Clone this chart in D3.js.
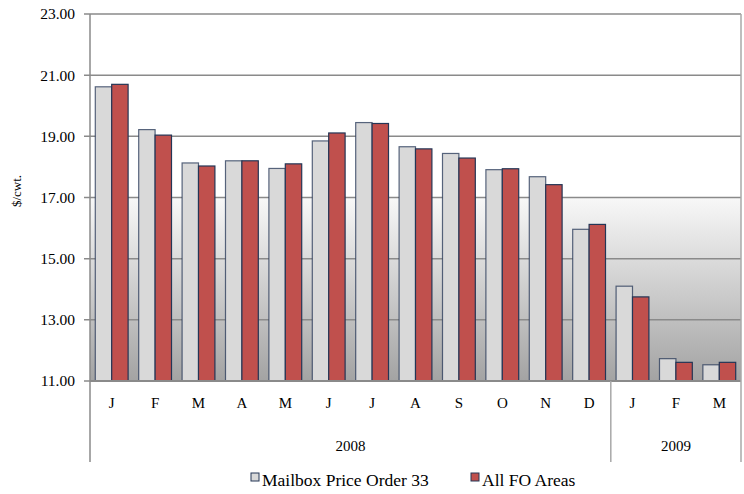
<!DOCTYPE html>
<html><head><meta charset="utf-8">
<script src="https://cdn.jsdelivr.net/npm/d3@7"></script>
<style>body{margin:0;background:#fff}svg{display:block}svg text{font-family:"Liberation Serif","DejaVu Serif",serif}</style>
</head><body>
<script>
const months = ["J","F","M","A","M","J","J","A","S","O","N","D","J","F","M"];
const years = [{label:"2008", start:0, end:12},{label:"2009", start:12, end:15}];
const seriesNames = ["Mailbox Price Order 33","All FO Areas"];
const mailbox = [20.62,19.22,18.13,18.20,17.95,18.85,19.45,18.66,18.44,17.91,17.68,15.96,14.10,11.73,11.53];
const allFO   = [20.70,19.04,18.03,18.20,18.10,19.11,19.42,18.59,18.29,17.94,17.42,16.12,13.75,11.61,11.61];
const yTicks = [11,13,15,17,19,21,23];

const W=744,H=494;
const m={left:90,right:741,top:14,bottom:381};
const svg=d3.select("body").append("svg").attr("width",W).attr("height",H);
const idx=d3.range(months.length);
const x=d3.scaleBand().domain(idx).range([m.left,m.right]).paddingInner(0.244).paddingOuter(0.122);
const xs=d3.scaleBand().domain([0,1]).range([0,x.bandwidth()]);
const y=d3.scaleLinear().domain([11,23]).range([m.bottom,m.top]);
const colors=["#d9d9d9","#c0504d"];

const defs=svg.append("defs");
const g=defs.append("linearGradient").attr("id","bg").attr("x1",0).attr("y1",0).attr("x2",0).attr("y2",1);
g.append("stop").attr("offset","0").attr("stop-color","#ffffff");
g.append("stop").attr("offset","0.5").attr("stop-color","#ffffff");
g.append("stop").attr("offset","0.5").attr("stop-color","#f8f8f8");
g.append("stop").attr("offset","1").attr("stop-color","#a3a3a3");
svg.append("rect").attr("x",m.left).attr("y",m.top).attr("width",m.right-m.left).attr("height",m.bottom-m.top).attr("fill","url(#bg)");

// gridlines
svg.append("g").selectAll("line").data(yTicks).join("line")
 .attr("x1",m.left-6).attr("x2",m.right).attr("y1",d=>y(d)).attr("y2",d=>y(d))
 .attr("stroke","#8a8a8a").attr("stroke-width",1.5);

// y labels
svg.append("g").selectAll("text").data(yTicks).join("text")
 .attr("x",75).attr("y",d=>y(d)).attr("dy","0.35em").attr("text-anchor","end")
 .attr("font-size",15.5).attr("fill","#000").text(d=>d.toFixed(2));

svg.append("text").attr("transform","translate(21,191) rotate(-90)").attr("text-anchor","middle")
 .attr("font-size",13).text("$/cwt.");

// bars
const data=[mailbox,allFO];
data.forEach((vals,si)=>{
  svg.append("g").selectAll("rect").data(vals).join("rect")
   .attr("x",(d,i)=>x(i)+xs(si)).attr("width",xs.bandwidth())
   .attr("y",d=>y(d)).attr("height",d=>y(11)-y(d))
   .attr("fill",colors[si]).attr("stroke","#243656").attr("stroke-width",1.2).attr("stroke-opacity",si?1:0.75);
});

// axis lines
svg.append("line").attr("x1",m.left).attr("x2",m.right).attr("y1",m.bottom).attr("y2",m.bottom).attr("stroke","#8a8a8a").attr("stroke-width",2);
const step=x.step();
const seps=[0,12,15].map(i=>m.left+i*step);
svg.append("g").selectAll("line").data(seps).join("line")
 .attr("x1",d=>d).attr("x2",d=>d).attr("y1",(d,i)=>i==1?m.bottom:m.top).attr("y2",462)
 .attr("stroke",(d,i)=>i==0?"#8a8a8a":"#a8a8a8").attr("stroke-width",1.5);

// month labels
svg.append("g").selectAll("text").data(months).join("text")
 .attr("x",(d,i)=>x(i)+x.bandwidth()/2).attr("y",403).attr("dy","0.35em").attr("text-anchor","middle")
 .attr("font-size",15).text(d=>d);
svg.append("g").selectAll("text").data(years).join("text")
 .attr("x",d=>m.left+(d.start+d.end)/2*step).attr("y",446).attr("dy","0.35em").attr("text-anchor","middle")
 .attr("font-size",15).text(d=>d.label);

// legend
const leg=[{x:251},{x:471}];
seriesNames.forEach((n,i)=>{
  svg.append("rect").attr("x",leg[i].x).attr("y",473).attr("width",8).attr("height",8)
   .attr("fill",colors[i]).attr("stroke","#243656").attr("stroke-width",1);
  svg.append("text").attr("x",leg[i].x+11).attr("y",486).attr("font-size",17.5)
   .text(n);
});
</script>
</body></html>
